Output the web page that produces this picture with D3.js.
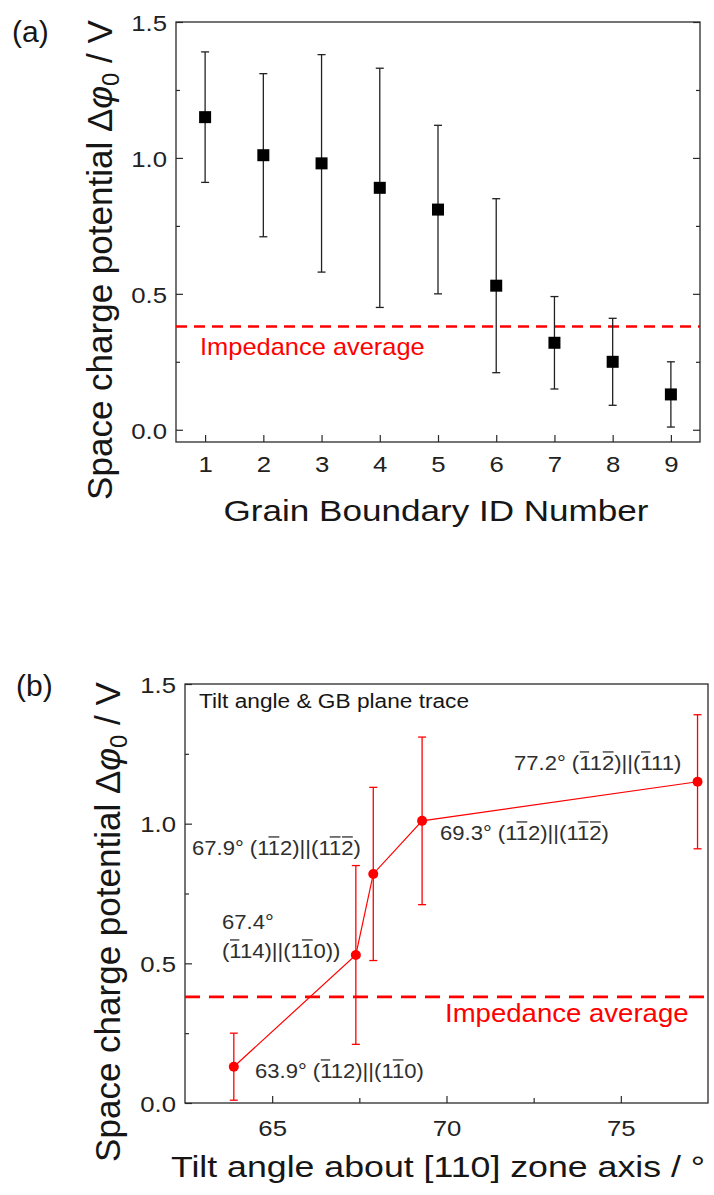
<!DOCTYPE html>
<html>
<head>
<meta charset="utf-8">
<script src="https://cdn.jsdelivr.net/npm/d3@7"></script>
<style>
  html, body { margin: 0; padding: 0; background: #fff; }
  svg { display: block; }
  text { font-family: "Liberation Sans", Arial, Helvetica, sans-serif; }
</style>
</head>
<body>
<svg id="fig" width="714" height="1195"></svg>
<script>
// ---- Panel (a): space charge potential per grain boundary ----
const gbIds       = [1, 2, 3, 4, 5, 6, 7, 8, 9];
const gbPotential = [1.15, 1.01, 0.98, 0.89, 0.81, 0.53, 0.32, 0.25, 0.13];
const gbErrLow    = [0.91, 0.71, 0.58, 0.45, 0.50, 0.21, 0.15, 0.09, 0.01];
const gbErrHigh   = [1.39, 1.31, 1.38, 1.33, 1.12, 0.85, 0.49, 0.41, 0.25];

// ---- Panel (b): potential against tilt angle about [110] ----
const tiltAngle     = [63.9, 67.4, 67.9, 69.3, 77.2];
const tiltPotential = [0.13, 0.53, 0.82, 1.01, 1.15];
const tiltErrLow    = [0.01, 0.21, 0.51, 0.71, 0.91];
const tiltErrHigh   = [0.25, 0.85, 1.13, 1.31, 1.39];

// Impedance spectroscopy average (V)
const impedanceAverage = 0.38;

// Tick values
const yMajorTicks = [0, 0.5, 1.0, 1.5];
const yMinorTicks = [0.25, 0.75, 1.25];
const xTicksB      = [65, 70, 75];
const xMinorTicksB = [67.5, 72.5];

// Boundary annotations: "~" marks an overlined (negative) index
const tiltNotes = [
  "77.2° (~11~2)||(~111)",
  "69.3° (1~12)||(1~1~2)",
  "67.9° (1~12)||(1~1~2)",
  "67.4°",
  "(~114)||(1~10))",
  "63.9° (~112)||(1~10)"
];

const svg = d3.select("#fig");
const INK = "#161616";
const RED = "#ff0000";
const SX = 1.12;   // lettering is set slightly wide

function frame(g, x0, x1, y0, y1) {
  g.append("rect")
    .attr("x", x0).attr("y", y0)
    .attr("width", x1 - x0).attr("height", y1 - y0)
    .attr("fill", "none").attr("stroke", "#2a2a2a").attr("stroke-width", 1.3);
}

function styleAxis(sel, fontSize) {
  sel.select(".domain").remove();
  sel.selectAll(".tick line").attr("stroke", "#2a2a2a").attr("stroke-width", 1.2);
  sel.selectAll(".tick text")
    .attr("font-size", fontSize)
    .attr("fill", "#222");
}

// Text with overbars on characters marked by a preceding "~"
function noteText(parent, x, y, str, size, color, sx) {
  const g = parent.append("g").attr("transform", `translate(${x},${y}) scale(${sx},1)`);
  const marks = [];
  let plain = "";
  for (let i = 0; i < str.length; i++) {
    if (str[i] === "~") { marks.push(plain.length); continue; }
    plain += str[i];
  }
  const t = g.append("text").attr("x", 0).attr("y", 0)
    .attr("font-size", size).attr("fill", color).text(plain);
  const node = t.node();
  marks.forEach(idx => {
    const e = node.getExtentOfChar(idx);
    g.append("line")
      .attr("x1", e.x + e.width * 0.06).attr("x2", e.x + e.width * 0.94)
      .attr("y1", -size * 0.86).attr("y2", -size * 0.86)
      .attr("stroke", color).attr("stroke-width", 1.3);
  });
  return g;
}

function yTitle(parent, x, y, size) {
  const t = parent.append("text")
    .attr("transform", `translate(${x},${y}) rotate(-90)`)
    .attr("text-anchor", "middle")
    .attr("font-size", size).attr("fill", INK);
  t.append("tspan").text("Space charge potential \u0394");
  t.append("tspan").attr("font-style", "italic").text("\u03C6");
  t.append("tspan").attr("font-size", size * 0.68).attr("dy", size * 0.2).text("0");
  t.append("tspan").attr("dy", -size * 0.2).text(" / V");
}

function stretchedText(parent, x, y, str, size, anchor, sx, color) {
  parent.append("text")
    .attr("transform", `translate(${x},${y}) scale(${sx},1)`)
    .attr("text-anchor", anchor)
    .attr("font-size", size).attr("fill", color || INK)
    .text(str);
}

// ================= Panel (a) =================
const A = { left: 176, right: 700, top: 22, bottom: 442 };
const xA = d3.scaleLinear().domain([0.5, 9.5]).range([A.left, A.right]);
const yA = d3.scaleLinear().domain([-0.045, 1.5]).range([A.bottom, A.top]);
const gA = svg.append("g");

gA.append("g").attr("transform", `translate(${A.left},0)`)
  .call(d3.axisLeft(yA).tickValues(yMajorTicks).tickSize(-7).tickPadding(8)
        .tickFormat(d3.format(".1f")))
  .call(s => styleAxis(s, 23))
  .call(s => s.selectAll(".tick text").attr("transform", `scale(${SX},1)`).attr("dy", "0.36em"));
gA.append("g").attr("transform", `translate(${A.left},0)`)
  .call(d3.axisLeft(yA).tickValues(yMinorTicks).tickSize(-4).tickFormat(""))
  .call(s => styleAxis(s, 0));
gA.append("g").attr("transform", `translate(${A.right},0)`)
  .call(d3.axisRight(yA).tickValues(yMajorTicks).tickSize(-7).tickFormat(""))
  .call(s => styleAxis(s, 0));
gA.append("g").attr("transform", `translate(${A.right},0)`)
  .call(d3.axisRight(yA).tickValues(yMinorTicks).tickSize(-4).tickFormat(""))
  .call(s => styleAxis(s, 0));
gA.append("g").attr("transform", `translate(0,${A.bottom})`)
  .call(d3.axisBottom(xA).tickValues(gbIds).tickSize(-7).tickPadding(14)
        .tickFormat(d3.format("d")))
  .call(s => styleAxis(s, 23))
  .call(s => s.selectAll(".tick text").attr("transform", `scale(${SX},1)`));

frame(gA, A.left, A.right, A.top, A.bottom);

// impedance reference line
gA.append("line")
  .attr("x1", A.left).attr("x2", A.right)
  .attr("y1", yA(impedanceAverage)).attr("y2", yA(impedanceAverage))
  .attr("stroke", RED).attr("stroke-width", 2.5).attr("stroke-dasharray", "11,7");
stretchedText(gA, 200, 355, "Impedance average", 24, "start", 1.06, RED);

// error bars and markers
const barsA = gA.append("g").selectAll("g").data(gbIds).join("g");
barsA.append("line")
  .attr("x1", d => xA(d)).attr("x2", d => xA(d))
  .attr("y1", (d, i) => yA(gbErrLow[i])).attr("y2", (d, i) => yA(gbErrHigh[i]))
  .attr("stroke", "#222").attr("stroke-width", 1.3);
[gbErrLow, gbErrHigh].forEach(arr => {
  barsA.append("line")
    .attr("x1", d => xA(d) - 4).attr("x2", d => xA(d) + 4)
    .attr("y1", (d, i) => yA(arr[i])).attr("y2", (d, i) => yA(arr[i]))
    .attr("stroke", "#222").attr("stroke-width", 1.3);
});
barsA.append("rect")
  .attr("x", d => xA(d) - 6).attr("y", (d, i) => yA(gbPotential[i]) - 6)
  .attr("width", 12).attr("height", 12).attr("fill", "#000");

yTitle(gA, 112, 260, 35);
stretchedText(gA, 436, 521, "Grain Boundary ID Number", 30, "middle", 1.17);
svg.append("text").attr("x", 12).attr("y", 42).attr("font-size", 30).attr("fill", INK).text("(a)");

// ================= Panel (b) =================
const B = { left: 185, right: 708, top: 684, bottom: 1103 };
const xB = d3.scaleLinear().domain([62.5, 77.5]).range([B.left, B.right]);
const yB = d3.scaleLinear().domain([0, 1.5]).range([B.bottom, B.top]);
const gB = svg.append("g");

gB.append("g").attr("transform", `translate(${B.left},0)`)
  .call(d3.axisLeft(yB).tickValues(yMajorTicks).tickSize(-7).tickPadding(8)
        .tickFormat(d3.format(".1f")))
  .call(s => styleAxis(s, 23))
  .call(s => s.selectAll(".tick text").attr("transform", `scale(${SX},1)`).attr("dy", "0.36em"));
gB.append("g").attr("transform", `translate(${B.left},0)`)
  .call(d3.axisLeft(yB).tickValues(yMinorTicks).tickSize(-4).tickFormat(""))
  .call(s => styleAxis(s, 0));
gB.append("g").attr("transform", `translate(0,${B.bottom})`)
  .call(d3.axisBottom(xB).tickValues(xTicksB).tickSize(-7).tickPadding(17)
        .tickFormat(d3.format("d")))
  .call(s => styleAxis(s, 23))
  .call(s => s.selectAll(".tick text").attr("transform", `scale(${SX},1)`));
gB.append("g").attr("transform", `translate(0,${B.bottom})`)
  .call(d3.axisBottom(xB).tickValues(xMinorTicksB).tickSize(-5).tickFormat(""))
  .call(s => styleAxis(s, 0));

frame(gB, B.left, B.right, B.top, B.bottom);

gB.append("line")
  .attr("x1", B.left).attr("x2", B.right)
  .attr("y1", yB(impedanceAverage)).attr("y2", yB(impedanceAverage))
  .attr("stroke", RED).attr("stroke-width", 2.8).attr("stroke-dasharray", "15,9");
stretchedText(gB, 445, 1022, "Impedance average", 26, "start", 1.06, RED);

const lineB = d3.line().x(d => xB(d)).y((d, i) => yB(tiltPotential[i]));
gB.append("path").datum(tiltAngle)
  .attr("d", lineB).attr("fill", "none").attr("stroke", RED).attr("stroke-width", 1.2);

const barsB = gB.append("g").selectAll("g").data(tiltAngle).join("g");
barsB.append("line")
  .attr("x1", d => xB(d)).attr("x2", d => xB(d))
  .attr("y1", (d, i) => yB(tiltErrLow[i])).attr("y2", (d, i) => yB(tiltErrHigh[i]))
  .attr("stroke", RED).attr("stroke-width", 1.3);
[tiltErrLow, tiltErrHigh].forEach(arr => {
  barsB.append("line")
    .attr("x1", d => xB(d) - 4).attr("x2", d => xB(d) + 4)
    .attr("y1", (d, i) => yB(arr[i])).attr("y2", (d, i) => yB(arr[i]))
    .attr("stroke", RED).attr("stroke-width", 1.3);
});
barsB.append("circle")
  .attr("cx", d => xB(d)).attr("cy", (d, i) => yB(tiltPotential[i]))
  .attr("r", 5).attr("fill", RED);

// annotations
const NOTE = "#2e2e2e";
const notePos = [[514, 770], [440, 840], [192, 855], [222, 929], [222, 958], [255, 1078]];
tiltNotes.forEach((s, i) => noteText(gB, notePos[i][0], notePos[i][1], s, 21, NOTE, 1.05));
stretchedText(gB, 199, 708, "Tilt angle & GB plane trace", 21, "start", 1.08, INK);

yTitle(gB, 120, 922, 35);
stretchedText(gB, 438, 1177, "Tilt angle about [110] zone axis / \u00B0", 30, "middle", 1.19);
svg.append("text").attr("x", 16).attr("y", 696).attr("font-size", 30).attr("fill", INK).text("(b)");
</script>
</body>
</html>
